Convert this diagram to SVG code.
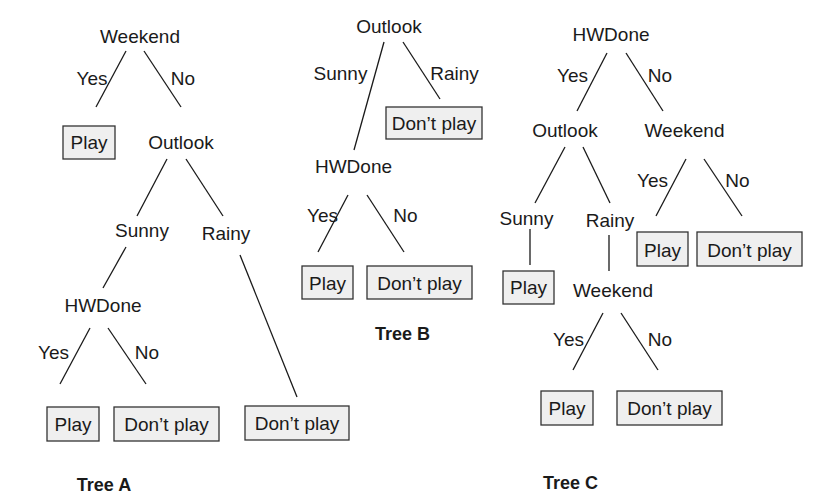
<svg xmlns="http://www.w3.org/2000/svg" width="824" height="504" viewBox="0 0 824 504">
<style>
text{font-family:"Liberation Sans",Arial,sans-serif;font-size:19px;fill:#1a1a1a;text-anchor:middle}
.t{font-weight:bold;font-size:18px}
rect{fill:#efefef;stroke:#333;stroke-width:1.3}
line{stroke:#1a1a1a;stroke-width:1.3}
</style>
<rect x="0" y="0" width="824" height="504" style="fill:#fff;stroke:none"/>
<g id="connectors">
<line x1="126" y1="51" x2="96" y2="107"/>
<line x1="144" y1="51" x2="181" y2="107"/>
<line x1="167" y1="159" x2="137" y2="216"/>
<line x1="186" y1="159" x2="223" y2="216"/>
<line x1="126" y1="247" x2="103" y2="288"/>
<line x1="240" y1="255" x2="297" y2="397"/>
<line x1="90" y1="328" x2="60" y2="384"/>
<line x1="108" y1="328" x2="146" y2="384"/>
<line x1="384" y1="42" x2="354" y2="150"/>
<line x1="403" y1="42" x2="440" y2="99"/>
<line x1="348" y1="195" x2="318" y2="252"/>
<line x1="367" y1="195" x2="404" y2="252"/>
<line x1="607" y1="53" x2="577" y2="111"/>
<line x1="626" y1="53" x2="663" y2="111"/>
<line x1="565" y1="147" x2="535" y2="203"/>
<line x1="583" y1="147" x2="610" y2="203"/>
<line x1="686" y1="159" x2="656" y2="216"/>
<line x1="704" y1="159" x2="742" y2="216"/>
<line x1="530" y1="229" x2="530" y2="265"/>
<line x1="609" y1="235" x2="609" y2="271"/>
<line x1="603" y1="313" x2="573" y2="370"/>
<line x1="621" y1="313" x2="658" y2="370"/>
</g>
<g id="edge-labels">
<text x="92" y="85">Yes</text><text x="183" y="85">No</text>
<text x="53.5" y="359">Yes</text><text x="147" y="359">No</text>
<text x="322.5" y="222">Yes</text><text x="405.5" y="222">No</text>
<text x="340.5" y="80">Sunny</text><text x="454.5" y="80">Rainy</text>
<text x="572.5" y="82">Yes</text><text x="660" y="82">No</text>
<text x="652.5" y="187">Yes</text><text x="737.5" y="187">No</text>
<text x="568.5" y="346">Yes</text><text x="660" y="346">No</text>
</g>
<g id="treeA">
<g id="a-weekend"><text x="140" y="43">Weekend</text></g>
<g id="a-play1"><rect x="63" y="126" width="52" height="33"/><text x="89" y="149">Play</text></g>
<g id="a-outlook"><text x="181" y="149">Outlook</text></g>
<g id="a-sunny"><text x="142" y="237">Sunny</text></g>
<g id="a-rainy"><text x="226" y="240">Rainy</text></g>
<g id="a-hwdone"><text x="103" y="312">HWDone</text></g>
<g id="a-play2"><rect x="47" y="407" width="52" height="34"/><text x="73" y="431">Play</text></g>
<g id="a-dont1"><rect x="114" y="407" width="105" height="34"/><text x="166.5" y="431">Don’t play</text></g>
<g id="a-dont2"><rect x="245" y="406" width="104" height="34"/><text x="297" y="430">Don’t play</text></g>
<g id="a-title"><text class="t" x="104" y="491">Tree A</text></g>
</g>
<g id="treeB">
<g id="b-outlook"><text x="389" y="33">Outlook</text></g>
<g id="b-dont1"><rect x="386" y="107" width="96" height="32"/><text x="434" y="130">Don’t play</text></g>
<g id="b-hwdone"><text x="353.5" y="173">HWDone</text></g>
<g id="b-play"><rect x="302" y="266" width="51" height="33"/><text x="327.5" y="290">Play</text></g>
<g id="b-dont2"><rect x="367" y="266" width="105" height="33"/><text x="419.5" y="290">Don’t play</text></g>
<g id="b-title"><text class="t" x="402.5" y="340">Tree B</text></g>
</g>
<g id="treeC">
<g id="c-hwdone"><text x="611" y="41">HWDone</text></g>
<g id="c-outlook"><text x="565" y="137">Outlook</text></g>
<g id="c-weekend1"><text x="684.5" y="137">Weekend</text></g>
<g id="c-sunny"><text x="526.5" y="225">Sunny</text></g>
<g id="c-rainy"><text x="610" y="227">Rainy</text></g>
<g id="c-play1"><rect x="637" y="232" width="51" height="34"/><text x="662.5" y="257">Play</text></g>
<g id="c-dont1"><rect x="697" y="232" width="105" height="34"/><text x="749.5" y="257">Don’t play</text></g>
<g id="c-play2"><rect x="503" y="271" width="51" height="33"/><text x="528.5" y="294">Play</text></g>
<g id="c-weekend2"><text x="613" y="297">Weekend</text></g>
<g id="c-play3"><rect x="541" y="391" width="52" height="34"/><text x="567" y="415">Play</text></g>
<g id="c-dont2"><rect x="617" y="391" width="105" height="34"/><text x="669.5" y="415">Don’t play</text></g>
<g id="c-title"><text class="t" x="570.5" y="489">Tree C</text></g>
</g>
</svg>
